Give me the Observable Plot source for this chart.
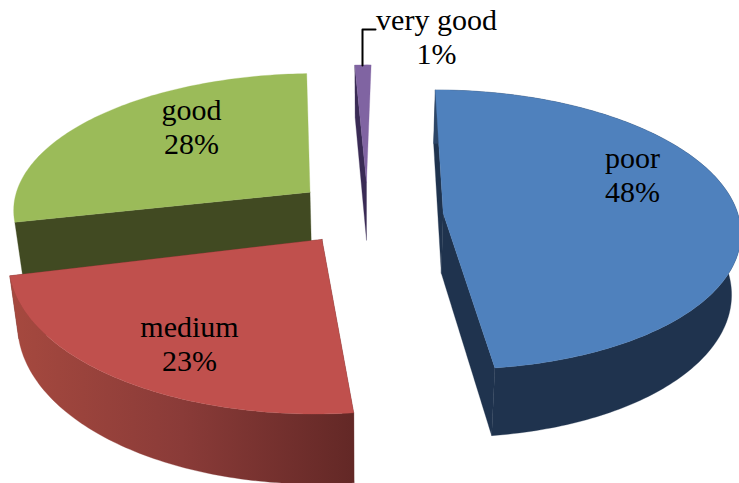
<!DOCTYPE html>
<html>
<head>
<meta charset="utf-8">
<style>
  html, body { margin: 0; padding: 0; background: #fff; }
  svg { display: block; }
</style>
<script src="https://cdn.jsdelivr.net/npm/d3@7"></script>
<script src="https://cdn.jsdelivr.net/npm/@observablehq/plot@0.6"></script>
</head>
<body>
<script>
// Quality ratings and their share of responses, clockwise from twelve o'clock
const categories = ["poor", "medium", "good", "very good"];
const shares = [48, 23, 28, 1];

// Colours per slice: top face and side faces
const topColors = ["#4F81BD", "#C0504D", "#9BBB59", "#8064A2"];
const sideColors = ["#1F334E", "#632826", "#414A22", "#3A2B55"];
const rimGradients = [["#2C4668", "#1F334E", "#1F334E"], ["#632826", "#8A3B38", "#A6493F"], ["#414A22", "#414A22", "#414A22"], ["#3A2B55", "#3A2B55", "#3A2B55"]];

// Layout of the pie: ground plane, camera and how each slice is pulled out
const W = 739, H = 483;
const pie = {cx: 367, cy: 215, radius: 298, tilt: 0.464, camera: 2550, depth: 60, baseScale: 0.975, rotation: 1};
const explode = [74, 74, 74, 74];
const turn = [-1, 0, 0.6, 0];
const radiusX = [0.99, 1.02, 1.005, 1];
const radiusZ = [1, 1.06, 0.995, 1];
const shiftX = [2, -2, 0, 0];
const shiftZ = [0, -10, -6, 0];
const drawOrder = [2, 3, 0, 1];
// Slices at the back show only the radial face on their left
const rimHidden = [false, false, true, true];
const labelAnchors = [[632, 174], [189, 343], [191, 126], [436, 36]];

const rad = d => d * Math.PI / 180;

// Plane coordinates to screen coordinates, for the top or the base of the disc
function project(px, pz, base = false) {
  const s = pie.camera / (pie.camera - pz);
  return {
    x: pie.cx + px * s * (base ? pie.baseScale : 1),
    y: pie.cy + pie.tilt * pz * s + (base ? pie.depth * s : 0)
  };
}

// Angular extent of each slice from its share
let running = pie.rotation;
const slices = shares.map((v, i) => {
  const a0 = running + turn[i], a1 = a0 + v * 3.6;
  running += v * 3.6;
  const mid = rad((a0 + a1) / 2);
  return {
    i, a0, a1,
    ox: explode[i] * Math.sin(mid) + shiftX[i],
    oz: -explode[i] * Math.cos(mid) + shiftZ[i]
  };
});

function rimPoint(s, a) {
  return [
    s.ox + pie.radius * radiusX[s.i] * Math.sin(rad(a)),
    s.oz - pie.radius * radiusZ[s.i] * Math.cos(rad(a))
  ];
}

function arc(s, base) {
  const steps = Math.max(4, Math.ceil(s.a1 - s.a0));
  return d3.range(steps + 1).map(k => {
    const [px, pz] = rimPoint(s, s.a0 + (s.a1 - s.a0) * k / steps);
    return project(px, pz, base);
  });
}

const polygon = (points, fill) =>
  Plot.line([...points, points[0]], {x: "x", y: "y", fill, stroke: fill, strokeWidth: 0.3, curve: "linear"});

// Side gradients running across each rim, left to right on the page
function gradients() {
  const defs = d3.create("svg:defs");
  slices.forEach(s => {
    const pts = arc(s, false);
    const x0 = d3.min(pts, d => d.x), x1 = d3.max(pts, d => d.x);
    const g = defs.append("linearGradient")
      .attr("id", `rim${s.i}`)
      .attr("gradientUnits", "userSpaceOnUse")
      .attr("x1", s.i === 0 ? x0 : x1).attr("x2", s.i === 0 ? x0 + 90 : x0)
      .attr("y1", 0).attr("y2", 0);
    rimGradients[s.i].forEach((c, k) =>
      g.append("stop").attr("offset", k / 2).attr("stop-color", c));
  });
  return defs.node();
}

const faces = drawOrder.flatMap(i => {
  const s = slices[i];
  const top = arc(s, false), bottom = arc(s, true);
  const apexTop = project(s.ox, s.oz, false), apexBase = project(s.ox, s.oz, true);
  const walls = [polygon([apexTop, top[0], bottom[0], apexBase], sideColors[i])];
  if (!rimHidden[i]) {
    walls.push(
      polygon([apexTop, top[top.length - 1], bottom[bottom.length - 1], apexBase], sideColors[i]),
      polygon([...top, ...bottom.slice().reverse()], `url(#rim${i})`)
    );
  }
  return [...walls, polygon([apexTop, ...top], topColors[i])];
});

const labels = categories.map((c, i) => ({
  text: `${c}\n${shares[i]}%`,
  x: labelAnchors[i][0],
  y: labelAnchors[i][1]
}));

const leader = [{x: 375, y: 29}, {x: 362, y: 29}, {x: 362, y: 65}];

const chart = Plot.plot({
  width: W,
  height: H,
  margin: 0,
  style: {background: "#fff"},
  x: {domain: [0, W], range: [0, W], axis: null},
  y: {domain: [0, H], range: [0, H], axis: null},
  marks: [
    gradients,
    ...faces,
    Plot.line(leader, {x: "x", y: "y", stroke: "#000", strokeWidth: 2, curve: "linear"}),
    Plot.text(labels, {
      x: "x", y: "y", text: "text",
      fontFamily: "Liberation Serif",
      fontSize: 30,
      lineHeight: 1.13,
      fill: "#000"
    })
  ]
});
document.body.appendChild(chart);
</script>
</body>
</html>
